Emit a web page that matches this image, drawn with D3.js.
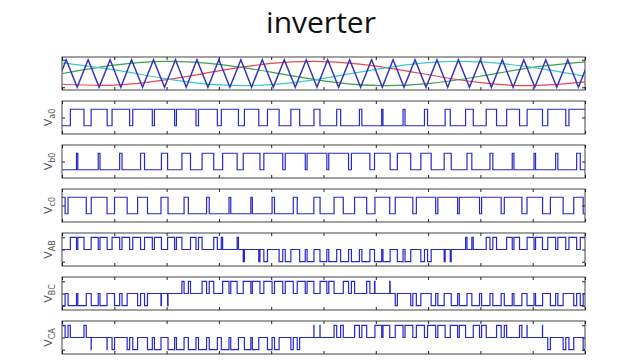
<!DOCTYPE html>
<html>
<head>
<meta charset="UTF-8">
<title>inverter</title>
<script src="https://cdn.jsdelivr.net/npm/d3@7"></script>
<style>
  body { margin: 0; background: #fff; }
  svg { display: block; }
</style>
</head>
<body>
<script>
// time axis, 0..10 divisions (no tick labels in the picture)
var xTicks = [0, 1, 2, 3, 4, 5, 6, 7, 8, 9, 10];

// carrier peaks (one virtual peak before 0)
var carrierPeaks = [-0.33, 0.08, 0.50, 0.92, 1.33, 1.75, 2.17, 2.58, 3.00, 3.42, 3.83, 4.25, 4.67,
                    5.08, 5.50, 5.92, 6.33, 6.75, 7.17, 7.58, 8.00, 8.42, 8.83, 9.25, 9.67, 10.08];

// reference sines, sampled at refTimes
var refTimes = [0, 1, 2, 3, 4, 5, 6, 7, 8, 9, 10];
var refA = [0.00, 0.61, 0.88, 0.67, 0.10, -0.53, -0.87, -0.73, -0.20, 0.45, 0.85];   // green
var refB = [-0.78, -0.85, -0.45, 0.19, 0.73, 0.87, 0.54, -0.09, -0.67, -0.88, -0.61]; // red
var refC = [0.77, 0.26, -0.39, -0.83, -0.81, -0.35, 0.30, 0.79, 0.84, 0.44, -0.20];   // cyan

// fraction of each carrier interval where the pole voltage is high
var dutyA = [0.46, 0.62, 0.73, 0.82, 0.89, 0.92, 0.91, 0.86, 0.78, 0.67, 0.53, 0.40, 0.28,
             0.18, 0.11, 0.06, 0.09, 0.14, 0.24, 0.35, 0.47, 0.60, 0.70, 0.82, 0.89];
var dutyB = [0.13, 0.06, 0.08, 0.11, 0.18, 0.28, 0.40, 0.53, 0.66, 0.78, 0.86, 0.91, 0.92,
             0.90, 0.84, 0.73, 0.61, 0.47, 0.33, 0.22, 0.13, 0.08, 0.07, 0.10, 0.17];
var dutyC = [0.90, 0.83, 0.72, 0.59, 0.45, 0.32, 0.20, 0.12, 0.08, 0.07, 0.11, 0.18, 0.29,
             0.42, 0.55, 0.69, 0.80, 0.88, 0.92, 0.92, 0.89, 0.82, 0.71, 0.58, 0.44];

var poleLabels = ["a0", "b0", "c0"];
var lineLabels = ["AB", "BC", "CA"];

var width = 640, height = 360;
var left = 62, right = 585, panelH = 33, panelTop = 57, step = 44;

var svg = d3.select("body").append("svg")
    .attr("width", width)
    .attr("height", height);

svg.append("text")
    .attr("x", 321)
    .attr("y", 33)
    .attr("text-anchor", "middle")
    .attr("font-family", "Open Sans, sans-serif")
    .attr("font-size", 30)
    .attr("fill", "#111")
    .text("inverter");

var x = d3.scaleLinear().domain([0, 10]).range([left, right]);

function pulses(duty) {
  var out = [];
  for (var k = 0; k < duty.length; k++) {
    var a = carrierPeaks[k], b = carrierPeaks[k + 1];
    var mid = (a + b) / 2, half = duty[k] * (b - a) / 2;
    out.push([mid - half, mid + half]);
  }
  return out;
}

function levelAt(p, t) {
  for (var i = 0; i < p.length; i++) if (t >= p[i][0] && t < p[i][1]) return 1;
  return -1;
}

// step points from a list of pulses (or a difference of two)
function stepPoints(pa, pb) {
  var times = [0, 10];
  pa.forEach(function (d) { times.push(d[0], d[1]); });
  if (pb) pb.forEach(function (d) { times.push(d[0], d[1]); });
  times = times.filter(function (t) { return t >= 0 && t <= 10; }).sort(d3.ascending);
  return times.map(function (t) {
    var t0 = Math.min(t, 10 - 1e-9);
    var v = pb ? levelAt(pa, t0) - levelAt(pb, t0) : levelAt(pa, t0);
    return [t, v];
  });
}

function panel(i, yDomain, yTicks) {
  var top = panelTop + i * step;
  var y = d3.scaleLinear().domain(yDomain).range([top + panelH, top]);
  var g = svg.append("g");
  g.append("rect")
      .attr("x", left).attr("y", top)
      .attr("width", right - left).attr("height", panelH)
      .attr("fill", "none").attr("stroke", "#444").attr("stroke-width", 1);

  var axes = [
    d3.axisBottom(x).tickValues(xTicks).tickSize(-3).tickFormat(""),
    d3.axisTop(x).tickValues(xTicks).tickSize(-3).tickFormat(""),
    d3.axisLeft(y).tickValues(yTicks).tickSize(-3).tickFormat(""),
    d3.axisRight(y).tickValues(yTicks).tickSize(-3).tickFormat("")
  ];
  var shifts = ["translate(0," + (top + panelH) + ")", "translate(0," + top + ")",
                "translate(" + left + ",0)", "translate(" + right + ",0)"];
  axes.forEach(function (ax, j) {
    var a = g.append("g").attr("transform", shifts[j]).call(ax);
    a.select(".domain").remove();
    a.selectAll("line").attr("stroke", "#222");
  });
  return { g: g, y: y, top: top };
}

function label(p, sub) {
  var cy = p.top + panelH / 2;
  var t = p.g.append("text")
      .attr("transform", "translate(52," + cy + ") rotate(-90)")
      .attr("text-anchor", "middle")
      .attr("font-family", "DejaVu Sans, sans-serif")
      .attr("font-size", 11)
      .attr("fill", "#555");
  t.append("tspan").text("V");
  t.append("tspan").attr("font-size", 8).attr("dy", 3).text(sub);
}

// top panel: carrier and three references
var p0 = panel(0, [-1.2, 1.2], [-1, 1]);
var line = d3.line().x(function (d) { return x(d[0]); }).y(function (d) { return p0.y(d[1]); });
var smooth = d3.line().curve(d3.curveNatural)
    .x(function (d) { return x(d[0]); }).y(function (d) { return p0.y(d[1]); });
svg.append("clipPath").attr("id", "clip0").append("rect")
    .attr("x", left).attr("y", p0.top).attr("width", right - left).attr("height", panelH);

var refs = [[refB, "#e8474a"], [refA, "#3f9f4a"], [refC, "#3fc8cc"]];
refs.forEach(function (r) {
  p0.g.append("path")
      .attr("d", smooth(refTimes.map(function (t, i) { return [t, r[0][i]]; })))
      .attr("fill", "none").attr("stroke", r[1]).attr("stroke-width", 1.2)
      .attr("clip-path", "url(#clip0)");
});
var tri = [];
carrierPeaks.forEach(function (t, k) {
  tri.push([t, 1]);
  if (k < carrierPeaks.length - 1) tri.push([(t + carrierPeaks[k + 1]) / 2, -1]);
});
p0.g.append("path")
    .attr("d", line(tri))
    .attr("fill", "none").attr("stroke", "#3535b5").attr("stroke-width", 1.5)
    .attr("clip-path", "url(#clip0)");

var stepLine = function (y) {
  return d3.line().curve(d3.curveStepAfter)
      .x(function (d) { return x(d[0]); }).y(function (d) { return y(d[1]); });
};

var pole = [pulses(dutyA), pulses(dutyB), pulses(dutyC)];
pole.forEach(function (p, i) {
  var pn = panel(i + 1, [-2, 2], [0]);
  pn.g.append("path")
      .attr("d", stepLine(pn.y)(stepPoints(p)))
      .attr("fill", "none").attr("stroke", "#2828c8").attr("stroke-width", 1.2);
  label(pn, poleLabels[i]);
});

var pairs = [[0, 1], [1, 2], [2, 0]];
pairs.forEach(function (pr, i) {
  var pn = panel(i + 4, [-2.7, 2.7], [-2, 0, 2]);
  pn.g.append("path")
      .attr("d", stepLine(pn.y)(stepPoints(pole[pr[0]], pole[pr[1]])))
      .attr("fill", "none").attr("stroke", "#2828c8").attr("stroke-width", 1.2);
  label(pn, lineLabels[i]);
});
</script>
</body>
</html>
